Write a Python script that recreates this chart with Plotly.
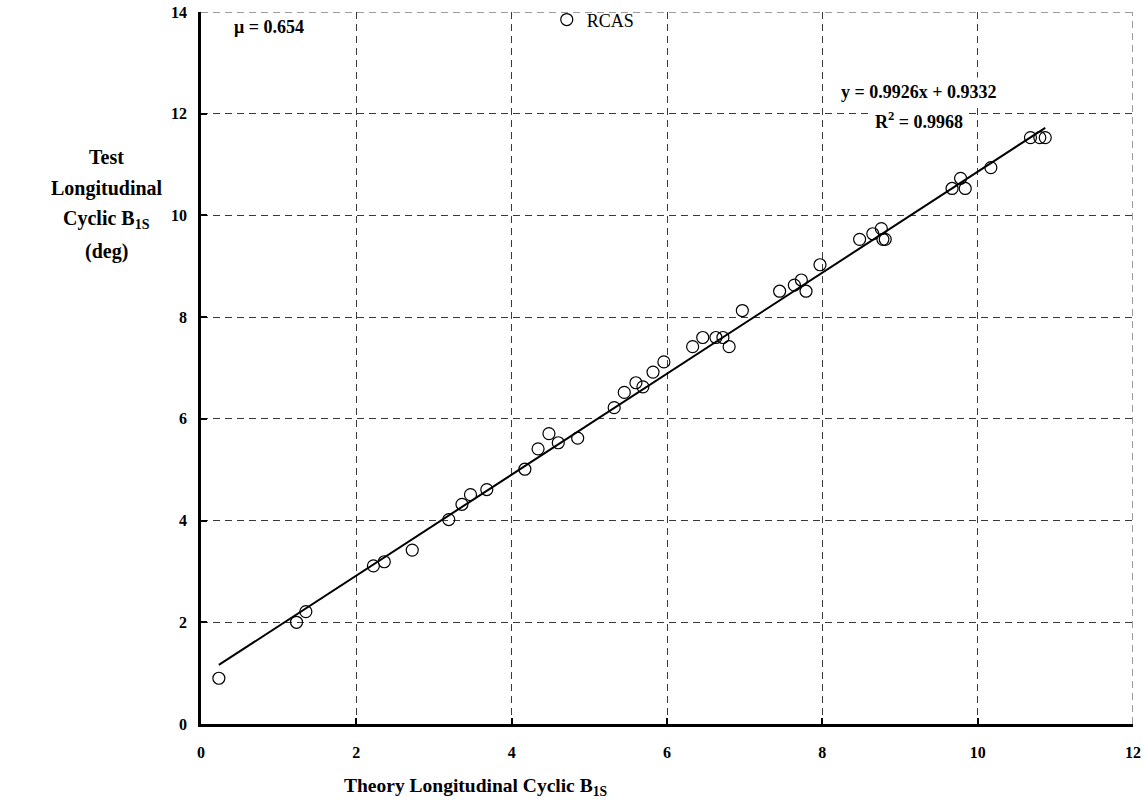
import plotly.graph_objects as go

# Data (Theory vs Test longitudinal cyclic B1S, deg)
theory = [0.23, 1.23, 1.35, 2.22, 2.36, 2.72, 3.19, 3.36, 3.47, 3.68,
          4.17, 4.34, 4.48, 4.60, 4.85, 5.32, 5.45, 5.60, 5.69, 5.82,
          5.96, 6.33, 6.46, 6.63, 6.72, 6.80, 6.97, 7.45, 7.64, 7.73,
          7.79, 7.97, 8.48, 8.65, 8.76, 8.78, 8.81, 9.67, 9.78, 9.84,
          10.17, 10.68, 10.80, 10.87]
test = [0.90, 2.00, 2.21, 3.11, 3.19, 3.42, 4.02, 4.32, 4.51, 4.61,
        5.01, 5.41, 5.71, 5.53, 5.62, 6.22, 6.52, 6.71, 6.63, 6.92,
        7.12, 7.42, 7.60, 7.60, 7.60, 7.42, 8.13, 8.51, 8.63, 8.73,
        8.51, 9.03, 9.53, 9.64, 9.74, 9.53, 9.53, 10.53, 10.73, 10.53,
        10.94, 11.53, 11.53, 11.53]
slope = 0.9926
intercept = 0.9332
r2 = 0.9968
mu = 0.654
x_ticks = [0, 2, 4, 6, 8, 10, 12]
y_ticks = [0, 2, 4, 6, 8, 10, 12, 14]
y_title_lines = ["Test", "Longitudinal", "Cyclic B<sub>1S</sub>", "(deg)"]
x_title = "Theory Longitudinal Cyclic B<sub>1S</sub>"

FONT = "Liberation Serif"
GRID = "#3a3a3a"
DASH = "7px,5px"

fit_x = [min(theory), max(theory)]
fit_y = [slope * v + intercept for v in fit_x]

fig = go.Figure()
fig.add_trace(go.Scatter(
    x=theory, y=test, mode="markers", name="RCAS",
    marker=dict(symbol="circle-open", size=12, color="black", line=dict(width=1.2, color="black")),
))
fig.add_trace(go.Scatter(
    x=fit_x, y=fit_y, mode="lines", showlegend=False,
    line=dict(color="black", width=2),
))

common = dict(
    showgrid=True, gridcolor=GRID, griddash=DASH, gridwidth=1,
    zeroline=False, ticks="inside", ticklen=6, tickwidth=2, tickcolor="black",
    showline=True, linecolor="black", linewidth=2.5, automargin=False,
    tickfont=dict(family=FONT, size=16, color="black", weight="bold"),
)
fig.update_xaxes(range=[0, 12], tickvals=x_ticks, ticklabelstandoff=12, **common)
fig.update_yaxes(range=[0, 14], tickvals=y_ticks, ticklabelstandoff=8, **common)

# dashed top and right border (grid-like)
fig.add_shape(type="line", xref="x", yref="y", x0=0, x1=12, y0=14, y1=14,
              line=dict(color=GRID, width=1, dash=DASH))
fig.add_shape(type="line", xref="x", yref="y", x0=12, x1=12, y0=0, y1=14,
              line=dict(color=GRID, width=1, dash=DASH))

# y-axis title, horizontal, one line per annotation
for i, line in enumerate(y_title_lines):
    fig.add_annotation(xref="paper", yref="paper", x=-0.101, y=0.797 - i * 0.0445,
                       xanchor="center", yanchor="middle",
                       text="<b>%s</b>" % line, showarrow=False,
                       font=dict(family=FONT, size=20, color="black"))
fig.add_annotation(xref="paper", yref="paper", x=0.294, y=-0.0885, xanchor="center", yanchor="middle",
                   text="<b>%s</b>" % x_title,
                   showarrow=False, font=dict(family=FONT, size=19.5, color="black"))
fig.add_annotation(xref="x", yref="y", x=0.4, y=13.7, xanchor="left", yanchor="middle",
                   text="<b>\u03bc = %.3f</b>" % mu, showarrow=False,
                   font=dict(family=FONT, size=18, color="black"))
# regression text, two lines with white background
fig.add_annotation(xref="x", yref="y", x=9.25, y=12.42, xanchor="center", yanchor="middle",
                   text="<b>y = %.4fx + %.4f</b>" % (slope, intercept),
                   showarrow=False, bgcolor="white", borderpad=4,
                   font=dict(family=FONT, size=18, color="black"))
fig.add_annotation(xref="x", yref="y", x=9.25, y=11.86, xanchor="center", yanchor="middle",
                   text="<b>R<sup>2</sup> = %.4f</b>" % r2,
                   showarrow=False, bgcolor="white", borderpad=4,
                   font=dict(family=FONT, size=18, color="black"))

fig.update_layout(
    width=1143, height=803,
    margin=dict(l=201, r=10, t=12, b=79, autoexpand=False),
    paper_bgcolor="white", plot_bgcolor="white",
    showlegend=True,
    legend=dict(x=0.371, y=0.989, xanchor="left", yanchor="middle", bgcolor="rgba(0,0,0,0)",
                font=dict(family=FONT, size=18, color="black"), itemwidth=30),
)

fig.write_html("out.html", config={"displayModeBar": False},
               post_script="document.body.style.margin='0';")
